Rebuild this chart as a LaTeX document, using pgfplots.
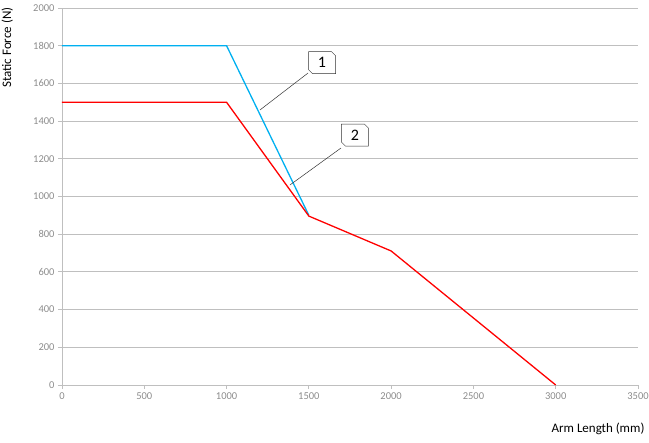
\documentclass[border=0pt]{standalone}
\usepackage{pgfplots}
\pgfplotsset{compat=1.18}
\usepackage{fontspec}
\setmainfont{Carlito}
\usetikzlibrary{shapes.misc}
\definecolor{lineblue}{RGB}{0,176,240}
\definecolor{gridgray}{RGB}{191,191,191}
\definecolor{ticktext}{RGB}{140,140,140}

\begin{document}
\begin{tikzpicture}
\useasboundingbox (-62pt,-58pt) rectangle (587pt,385pt);
\begin{axis}[
    scale only axis,
    width=576pt, height=377pt,
    xmin=0, xmax=3500,
    ymin=0, ymax=2000,
    xtick={0,500,...,3500},
    ytick={0,200,...,2000},
    axis x line*=bottom,
    axis y line*=left,
    axis line style={gridgray, -},
    ymajorgrids,
    major grid style={gridgray, line width=0.8pt},
    tick style={gridgray, line width=0.8pt},
    tick align=outside,
    major tick length=4pt,
    tick label style={font=\fontsize{10.5}{11}\selectfont, text=ticktext},
    /pgf/number format/assume math mode=true,
    /pgf/number format/1000 sep={},
    xlabel={Arm Length (mm)},
    ylabel={Static Force (N)},
    label style={font=\fontsize{13}{14}\selectfont},
    xlabel style={at={(rel axis cs:1,0)}, anchor=north east, yshift=-34pt, xshift=10pt},
    ylabel style={at={(axis description cs:-0.079,0.895)}, anchor=south},
    clip=false,
]
\addplot[lineblue, line width=1.3pt] coordinates {
    (0,1800) (1000,1800) (1500,900)
};
\addplot[red, line width=1.3pt] coordinates {
    (0,1500) (1000,1500) (1500,896) (2000,711) (3000,0)
};
% callouts
\draw[black!80, line width=0.5pt] (axis cs:1495,1655) -- (axis cs:1203,1459);
\draw[black!80, line width=0.5pt] (axis cs:1695,1257) -- (axis cs:1385,1061);
\node[chamfered rectangle, chamfered rectangle corners={north east, south west},
      chamfered rectangle xsep=2pt, chamfered rectangle ysep=2pt,
      draw=black!80, line width=0.5pt, fill=white, minimum width=27pt, minimum height=22pt,
      inner sep=0pt, font=\fontsize{16}{17}\selectfont]
      at (axis cs:1580,1710) {1};
\node[chamfered rectangle, chamfered rectangle corners={north east, south west},
      chamfered rectangle xsep=2pt, chamfered rectangle ysep=2pt,
      draw=black!80, line width=0.5pt, fill=white, minimum width=27pt, minimum height=22pt,
      inner sep=0pt, font=\fontsize{16}{17}\selectfont]
      at (axis cs:1780,1326) {2};
\end{axis}
\end{tikzpicture}
\end{document}
